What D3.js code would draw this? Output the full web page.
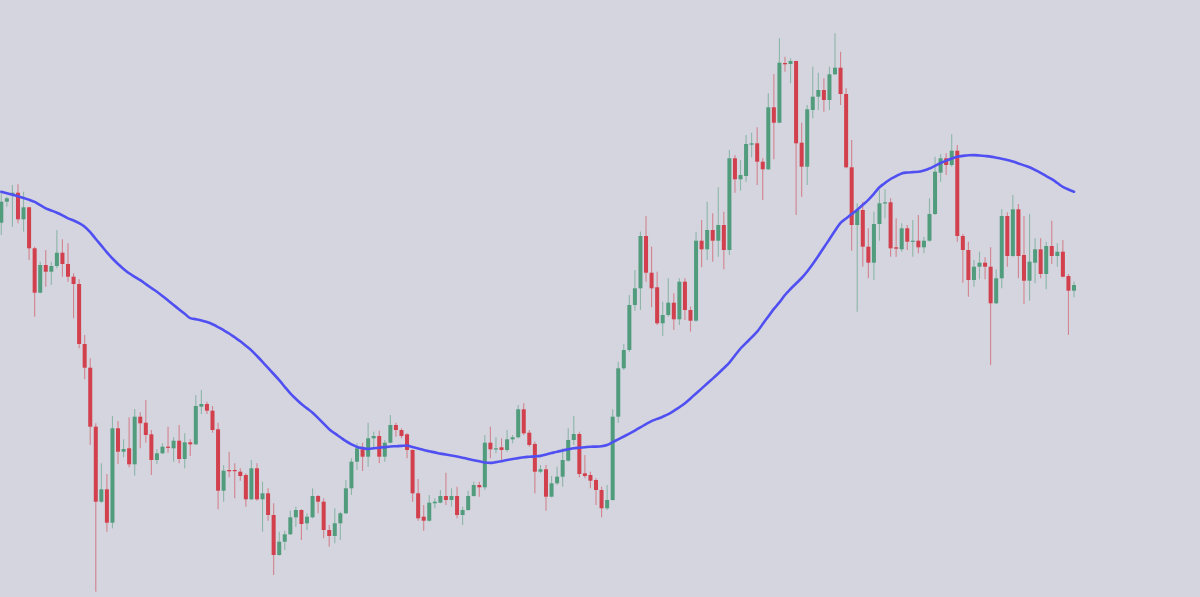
<!DOCTYPE html>
<html>
<head>
<meta charset="utf-8">
<script src="https://cdn.jsdelivr.net/npm/d3@7"></script>
<style>
html,body{margin:0;padding:0;background:#d4d5de;overflow:hidden;}
svg{display:block;}
</style>
</head>
<body>
<svg id="chart" width="1200" height="597"></svg>
<script>
const open = [377.3,398.3,405.0,407.3,380.7,392.7,351.7,307.3,335.0,328.3,334.0,347.3,336.0,323.3,316.0,256.0,232.3,173.3,98.3,110.7,77.3,171.7,148.3,151.7,135.7,183.3,177.3,165.7,140.0,146.7,153.3,151.7,159.3,141.0,157.7,155.7,193.3,196.0,189.3,170.7,109.3,130.0,130.0,128.3,125.0,100.7,131.7,100.7,106.7,85.0,45.0,58.3,65.7,82.7,90.0,76.7,82.7,104.0,98.3,70.0,64.0,76.7,86.7,111.7,138.3,150.7,143.3,161.7,164.0,143.3,157.3,175.0,170.0,165.7,150.0,106.7,83.3,79.3,96.7,97.3,104.0,100.0,104.0,85.0,90.0,104.0,115.0,112.7,157.3,150.7,152.7,150.0,160.7,162.7,190.7,167.3,156.0,128.3,130.7,103.3,116.7,123.3,139.3,160.0,166.0,126.7,125.0,120.0,110.0,91.7,100.0,183.3,231.7,250.0,295.0,311.7,364.0,327.3,312.7,276.7,285.0,297.3,280.7,318.3,290.0,279.3,359.3,350.7,370.0,359.3,375.0,350.0,441.7,420.7,424.0,455.3,456.7,438.3,430.7,492.7,477.3,537.0,536.0,539.0,457.3,433.3,490.0,503.3,510.0,500.0,525.7,532.3,506.0,432.7,375.0,390.0,353.3,337.3,376.0,396.7,397.7,352.7,350.7,371.7,358.3,359.3,352.7,359.3,386.0,427.3,441.7,435.0,449.3,364.0,350.0,320.0,333.3,337.3,333.3,296.7,321.7,384.0,344.0,390.7,345.0,319.3,337.3,350.7,326.0,354.0,344.0,348.3,324.0,309.3];
const high = [408.3,403.3,415.0,415.7,408.3,393.3,353.3,338.3,350.0,338.3,370.0,360.7,356.7,326.7,320.7,265.0,241.7,176.7,136.7,126.0,184.0,179.0,160.7,182.7,191.0,187.7,200.0,170.0,150.7,156.7,173.3,162.7,175.0,166.7,160.7,205.0,210.0,198.3,194.0,177.3,135.0,148.3,136.7,131.7,126.7,140.0,136.7,118.3,111.7,96.7,68.3,69.3,89.3,93.3,90.7,86.7,111.7,105.0,101.7,75.0,91.7,88.3,120.0,141.7,156.7,157.3,177.3,168.3,169.3,160.0,185.0,177.3,171.7,166.7,150.7,121.0,95.0,105.0,101.7,110.0,127.3,111.7,113.3,93.3,109.3,118.3,118.3,165.0,173.3,162.7,161.7,170.0,165.0,195.0,196.7,170.0,158.3,135.0,135.0,124.0,133.3,151.7,171.7,184.0,168.3,145.0,128.3,121.7,113.3,115.0,190.7,238.3,256.0,305.0,330.0,368.3,384.0,353.3,328.3,298.3,321.7,306.7,321.7,321.7,293.3,368.3,380.0,398.3,386.7,412.7,388.3,450.0,445.0,440.0,465.0,467.3,472.7,441.7,506.7,526.0,561.7,543.3,541.7,539.3,477.3,495.0,533.3,527.3,521.7,533.3,566.7,548.3,511.7,460.0,396.7,398.3,371.7,388.3,410.0,410.7,401.7,381.7,376.7,375.0,380.0,385.0,363.3,401.7,443.3,446.0,446.7,466.0,455.0,366.0,358.3,340.0,348.3,342.7,352.7,330.7,390.7,387.7,405.0,396.0,384.0,386.0,361.7,361.7,358.3,379.3,356.7,360.0,326.0,318.3];
const low = [365.0,393.3,373.3,376.7,368.3,340.0,283.3,306.7,313.3,315.0,331.7,323.3,318.3,281.7,251.7,220.7,155.0,8.3,97.3,68.3,71.7,136.0,142.7,132.7,124.3,151.7,157.3,125.0,136.0,146.0,147.3,138.3,136.7,131.7,144.0,155.0,186.0,186.0,167.3,90.7,98.3,122.7,101.7,119.3,93.3,100.0,99.3,68.3,79.3,25.0,44.3,50.0,65.0,73.3,60.0,70.0,81.7,86.7,61.7,53.3,56.7,60.0,86.0,105.0,130.0,129.0,133.3,150.7,136.7,138.3,156.7,163.3,161.7,141.7,98.3,79.3,69.3,78.3,91.7,96.7,95.0,93.3,81.7,75.0,89.3,103.3,103.3,110.0,141.7,146.7,140.0,148.3,156.7,161.7,165.0,153.3,106.7,126.7,89.3,102.7,115.0,113.3,138.3,155.0,122.7,121.7,111.7,95.0,82.7,90.0,99.3,177.3,230.0,248.3,289.3,290.0,318.3,292.7,275.0,264.0,283.3,270.0,275.0,280.0,268.3,278.3,332.7,340.0,338.3,343.3,330.7,345.0,407.3,409.3,418.3,442.7,415.0,400.0,430.0,440.7,476.7,528.3,516.7,385.0,403.3,415.0,481.7,490.0,488.3,490.0,525.0,495.0,431.7,349.3,288.3,333.3,321.7,320.0,359.3,381.7,343.3,343.3,348.3,350.0,343.3,346.7,346.7,358.3,385.0,418.3,425.0,433.3,358.3,317.3,303.3,313.3,320.7,320.7,235.0,296.0,311.7,333.3,343.3,321.7,296.0,299.3,316.7,321.7,310.7,336.0,333.3,322.7,265.0,302.7];
const close = [398.3,401.7,407.3,380.7,392.7,351.7,307.3,335.0,328.3,334.0,347.3,336.0,323.3,316.0,256.0,232.3,173.3,98.3,110.7,77.3,171.7,148.3,151.0,135.7,183.3,176.7,165.0,140.0,146.7,153.3,152.3,159.3,141.0,157.7,155.7,194.0,196.0,189.3,170.0,109.3,129.3,128.7,129.0,124.0,100.7,131.7,100.7,106.7,85.0,45.0,58.3,65.7,82.7,90.0,76.0,83.3,104.0,98.3,70.0,64.0,76.7,86.7,111.7,138.3,151.7,143.3,161.7,164.0,143.3,157.3,175.0,170.0,164.0,150.0,106.7,81.7,79.3,97.3,98.3,104.0,100.0,104.0,85.0,90.0,104.0,115.0,112.7,157.3,150.7,151.7,150.0,160.7,162.7,190.7,166.7,155.0,128.3,130.7,103.3,116.7,123.3,140.0,160.0,166.0,126.0,124.0,119.3,110.0,91.7,100.0,183.3,231.7,250.0,295.0,311.7,364.0,327.3,311.7,276.7,285.0,297.3,280.7,318.3,290.0,279.3,359.3,350.7,370.0,359.3,375.0,350.0,441.7,420.7,425.0,456.0,456.7,438.3,430.7,492.7,477.3,537.3,535.7,539.0,456.7,433.3,490.7,503.3,510.0,500.0,525.7,532.3,506.0,432.7,375.0,390.0,353.3,337.3,376.0,396.7,397.7,351.7,351.3,371.7,358.3,359.3,352.7,359.3,386.0,428.3,441.7,435.0,449.3,364.0,350.0,320.0,333.3,337.3,333.3,296.7,321.7,384.0,344.0,390.7,344.0,319.3,338.3,350.7,326.0,354.0,344.0,348.3,323.3,309.3,315.0];
const movingAverage = [408.2,406.7,405.2,403.7,402.0,400.2,398.1,394.8,391.7,389.5,387.2,384.6,381.6,379.5,376.9,373.3,367.8,361.0,354.4,347.7,341.5,336.0,331.1,326.7,323.2,319.8,315.9,312.0,308.2,304.0,299.6,295.1,290.6,286.2,281.9,280.8,279.6,277.9,275.7,272.9,269.8,266.5,262.7,258.8,254.3,249.6,244.0,238.2,232.1,226.0,219.9,213.2,206.7,201.1,195.9,191.6,187.3,181.9,176.3,170.8,166.6,162.7,158.8,155.7,153.0,151.9,151.1,151.7,152.3,152.9,153.5,153.8,154.1,154.5,152.9,151.4,149.9,148.7,147.6,146.4,145.5,144.5,143.5,142.3,141.0,139.8,138.7,137.5,137.1,137.9,138.8,140.0,141.0,141.9,142.8,143.2,143.6,144.1,145.5,146.9,148.3,149.5,150.7,151.8,152.3,152.8,153.3,153.4,153.8,155.0,157.8,160.7,163.5,166.4,169.4,172.6,175.9,178.9,181.1,183.3,185.8,189.2,192.7,196.8,201.6,206.6,211.4,216.5,221.4,226.5,231.9,237.4,244.5,251.5,257.1,262.6,268.3,276.0,283.5,291.1,297.6,305.0,311.0,316.5,322.0,328.5,336.0,344.1,352.5,360.8,369.2,377.2,381.5,385.9,390.2,395.2,400.2,406.2,412.7,417.0,421.0,423.8,426.6,427.5,427.9,428.2,429.6,431.5,434.2,437.0,439.4,441.4,443.3,444.1,444.8,444.9,444.5,444.0,443.4,442.3,441.2,440.0,438.5,436.6,434.6,432.7,430.0,427.2,423.9,420.8,417.0,413.1,410.5,408.3];

const W = 1200, H = 597;
const UP = "#529c7e", DOWN = "#d1404c", MA_COLOR = "#5050f2";

const data = open.map((o, i) => ({i, o, h: high[i], l: low[i], c: close[i]}));

const svg = d3.select("#chart");
svg.append("rect").attr("width", W).attr("height", H).attr("fill", "#d4d5de");

const step = 5.558;
const x = d3.scaleBand()
  .domain(data.map(d => d.i))
  .range([1.3 - step / 2, 1.3 - step / 2 + step * data.length])
  .paddingInner(0.28)
  .paddingOuter(0.14);
const y = d3.scaleLinear().domain([0, 600]).range([600, 0]);

const cx = d => x(d.i) + x.bandwidth() / 2;

const g = svg.append("g");
const candles = g.selectAll("g.candle").data(data).join("g").attr("class", "candle");

candles.append("line")
  .attr("x1", cx).attr("x2", cx)
  .attr("y1", d => y(d.h)).attr("y2", d => y(d.l))
  .attr("stroke", d => d.c >= d.o ? UP : DOWN)
  .attr("stroke-opacity", 0.55)
  .attr("stroke-width", 1.1);

candles.append("rect")
  .attr("x", d => x(d.i))
  .attr("width", x.bandwidth())
  .attr("y", d => y(Math.max(d.o, d.c)))
  .attr("height", d => Math.max(1.2, Math.abs(y(d.o) - y(d.c))))
  .attr("fill", d => d.c >= d.o ? UP : DOWN);

const line = d3.line()
  .x((v, i) => x(i) + x.bandwidth() / 2)
  .y(v => y(v))
  .curve(d3.curveMonotoneX);

svg.append("path")
  .datum(movingAverage)
  .attr("d", line)
  .attr("fill", "none")
  .attr("stroke", MA_COLOR)
  .attr("stroke-width", 2.6)
  .attr("stroke-linejoin", "round")
  .attr("stroke-linecap", "round");
</script>
</body>
</html>
